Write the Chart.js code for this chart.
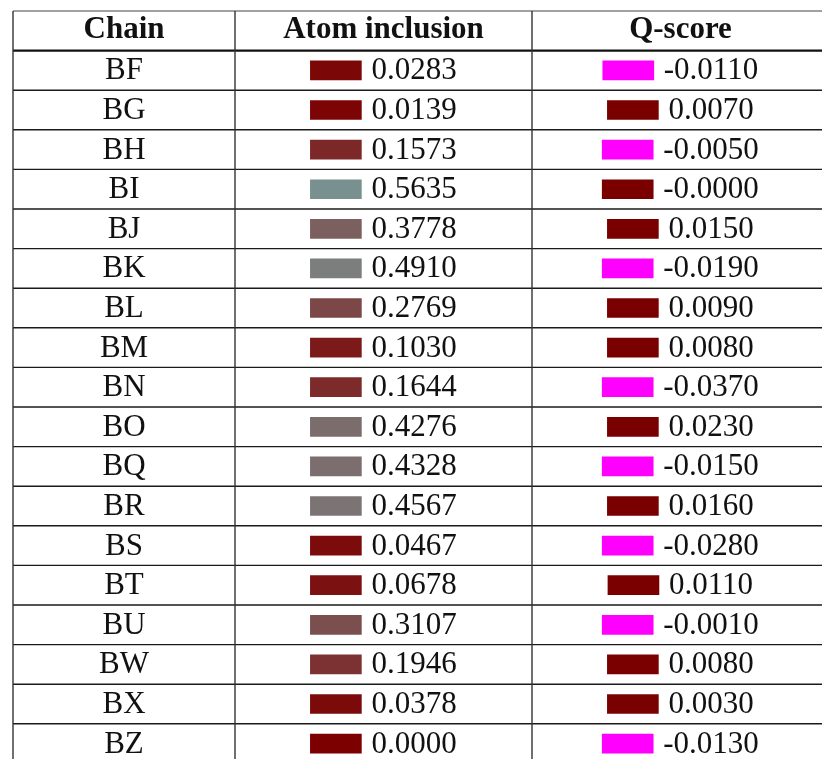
<!DOCTYPE html>
<html>
<head>
<meta charset="utf-8">
<script src="https://cdn.jsdelivr.net/npm/chart.js@4.4.1/dist/chart.umd.min.js"></script>
<style>
  html, body { margin: 0; padding: 0; background: #fff; }
  canvas { display: block; }
</style>
</head>
<body>
<canvas id="tbl" width="822" height="759"></canvas>
<script>
// table data
const headers = ["Chain", "Atom inclusion", "Q-score"];
const chains = ["BF", "BG", "BH", "BI", "BJ", "BK", "BL", "BM", "BN", "BO", "BQ", "BR", "BS", "BT", "BU", "BW", "BX", "BZ"];
const atomInclusion = [0.0283, 0.0139, 0.1573, 0.5635, 0.3778, 0.4910, 0.2769, 0.1030, 0.1644, 0.4276, 0.4328, 0.4567, 0.0467, 0.0678, 0.3107, 0.1946, 0.0378, 0.0000];
const qScore = [-0.0110, 0.0070, -0.0050, -0, 0.0150, -0.0190, 0.0090, 0.0080, -0.0370, 0.0230, -0.0150, 0.0160, -0.0280, 0.0110, -0.0010, 0.0080, 0.0030, -0.0130];

// layout (x in pixels, y in row units)
const colEdges = [13, 235, 532, 829];
const swatchW = 51, swatchGap = 10;
const bodyFont = "31px 'Liberation Serif'";
const headFont = "bold 31px 'Liberation Serif'";

function fmt(v) {
    let s = Math.abs(v).toFixed(4);
    return (v < 0 || Object.is(v, -0)) ? "-" + s : s;
}

function atomColor(v) {
    if (v <= 0.5) {
        let g = Math.round(255 * v);
        return "rgb(124," + g + "," + g + ")";
    }
    let r = Math.round(124 - (v - 0.5) * 60);
    let g = Math.round(255 * v);
    return "rgb(" + r + "," + g + "," + g + ")";
}

function qColor(v) {
    return v < 0 ? "#ff00ff" : "#7a0000";
}

const measure = document.createElement("canvas").getContext("2d");
measure.font = bodyFont;

// swatch + text group is centred in its column
function groupStart(col, text) {
    let tw = measure.measureText(text).width;
    let center = (colEdges[col] + colEdges[col + 1]) / 2;
    return center - (swatchW + swatchGap + tw) / 2;
}

const atomBars = atomInclusion.map((v, i) => {
    let x0 = groupStart(1, fmt(v));
    return { x: [x0, x0 + swatchW], y: i };
});
const qBars = qScore.map((v, i) => {
    let x0 = groupStart(2, fmt(v));
    return { x: [x0, x0 + swatchW], y: i };
});

const tablePlugin = {
    id: "tableLines",
    beforeDatasetsDraw(chart) {
        const ctx = chart.ctx;
        const xs = chart.scales.x, ys = chart.scales.y;
        ctx.save();
        const hline = (rv, w, color) => {
            let y = ys.getPixelForValue(rv);
            ctx.strokeStyle = color;
            ctx.lineWidth = w;
            ctx.beginPath();
            ctx.moveTo(xs.getPixelForValue(colEdges[0]), y);
            ctx.lineTo(xs.getPixelForValue(colEdges[3]), y);
            ctx.stroke();
        };
        hline(-1.5, 1.2, "#444");
        hline(-0.5, 2.2, "#111");
        for (let i = 0; i < chains.length; i++) hline(i + 0.5, 1.4, "#1a1a1a");
        ctx.strokeStyle = "#333";
        ctx.lineWidth = 1.4;
        for (let c = 0; c < 3; c++) {
            let x = xs.getPixelForValue(colEdges[c]);
            ctx.beginPath();
            ctx.moveTo(x, ys.getPixelForValue(-1.5));
            ctx.lineTo(x, chart.height);
            ctx.stroke();
        }
        ctx.restore();
    },
    afterDatasetsDraw(chart) {
        const ctx = chart.ctx;
        const xs = chart.scales.x, ys = chart.scales.y;
        ctx.save();
        ctx.fillStyle = "#111";
        ctx.textBaseline = "alphabetic";
        // header
        ctx.font = headFont;
        ctx.textAlign = "center";
        let hy = ys.getPixelForValue(-1) + 7;
        headers.forEach((h, c) => {
            let cx = xs.getPixelForValue((colEdges[c] + colEdges[c + 1]) / 2);
            ctx.fillText(h, cx, hy);
        });
        // body
        ctx.font = bodyFont;
        chains.forEach((name, i) => {
            let y = ys.getPixelForValue(i) + 9;
            ctx.textAlign = "center";
            ctx.fillText(name, xs.getPixelForValue((colEdges[0] + colEdges[1]) / 2), y);
            ctx.textAlign = "left";
            ctx.fillText(fmt(atomInclusion[i]), xs.getPixelForValue(atomBars[i].x[1] + swatchGap), y);
            ctx.fillText(fmt(qScore[i]), xs.getPixelForValue(qBars[i].x[1] + swatchGap), y);
        });
        ctx.restore();
    }
};

new Chart(document.getElementById("tbl"), {
    type: "bar",
    data: {
        datasets: [
            {
                label: "Atom inclusion",
                data: atomBars,
                backgroundColor: atomInclusion.map(atomColor),
                barThickness: 19,
                grouped: false
            },
            {
                label: "Q-score",
                data: qBars,
                backgroundColor: qScore.map(qColor),
                barThickness: 19,
                grouped: false
            }
        ]
    },
    options: {
        indexAxis: "y",
        responsive: false,
        animation: false,
        layout: { padding: 0 },
        plugins: { legend: { display: false }, tooltip: { enabled: false } },
        scales: {
            x: { type: "linear", min: 0, max: 822, offset: false, display: false },
            y: { type: "linear", min: -1.778, max: 17.389, reverse: true, offset: false, display: false }
        }
    },
    plugins: [tablePlugin]
});
</script>
</body>
</html>
